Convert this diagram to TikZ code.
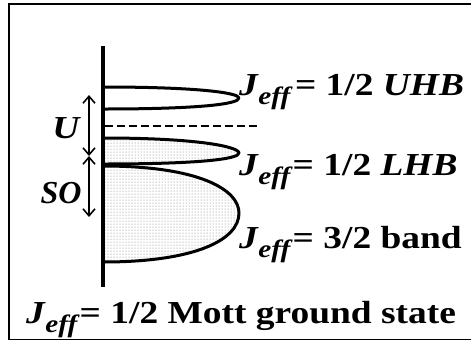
\documentclass[tikz,border=0pt]{standalone}
\usepackage{graphicx}
\usepackage{fontspec}
\setmainfont{Liberation Serif}
\usetikzlibrary{patterns,arrows.meta}
\newcommand\Jeff{\textit{J}\kern-0.5pt\raisebox{-9pt}{\fontsize{25}{25}\selectfont\textit{eff}}}
\newcommand\wide[1]{\scalebox{1.17}[1]{#1}}
\begin{document}
\begin{tikzpicture}[x=1pt,y=-1pt,
  band/.style={line width=3pt,line join=round},
  bandfill/.style={pattern=dots,pattern color=black!55},
  gap/.style={line width=1.6pt,{Straight Barb[length=7pt,width=12pt]}-{Straight Barb[length=7pt,width=12pt]}},
  lbl/.style={inner sep=0pt,anchor=base west,font=\fontsize{32}{34}\selectfont\bfseries},
  sym/.style={inner sep=0pt,anchor=base,font=\fontsize{32}{34}\selectfont\bfseries\itshape}]
\path[use as bounding box] (0,0) rectangle (471,341);
\coordinate (b1) at (471,4);
\coordinate (b2) at (9,4);
\coordinate (b3) at (9,339.5);
\coordinate (b4) at (471,339.5);
\draw[line width=1.6pt] (b1) -- (b2) -- (b3) -- (b4);
% bands
\fill[bandfill] (103,138) .. controls (200,138) and (239,147) .. (239,153) .. controls (239,159) and (200,164) .. (103,164) -- cycle;
\fill[bandfill] (103,165) .. controls (200,165) and (239,190) .. (239,213) .. controls (239,240) and (195,262) .. (103,262) -- cycle;
\draw[band] (103,87) .. controls (200,87) and (239,93) .. (239,98) .. controls (239,104) and (200,109) .. (103,109);
\draw[band] (103,138) .. controls (200,138) and (239,147) .. (239,153) .. controls (239,159) and (200,164) .. (103,164);
\draw[band] (103,166) .. controls (200,166) and (239,190) .. (239,213) .. controls (239,240) and (195,262) .. (103,262);
% axis
\coordinate (axtop) at (103,46);
\coordinate (axbot) at (103,287);
\draw[line width=4pt] (axtop) -- (axbot);
% fermi level
\coordinate (ef1) at (105,126);
\coordinate (ef2) at (259,126);
\draw[line width=1.4pt,dash pattern=on 8pt off 4pt] (ef1) -- (ef2);
% gaps
\coordinate (u1) at (89,95);
\coordinate (u2) at (89,156);
\coordinate (s2) at (89,217);
\draw[gap] (u1) -- (u2);
\draw[gap] (u2) -- (s2);
\node[sym] (U) at (66,138) {\wide{U}};
\node[sym] (SO) at (61,203) {SO};
% labels
\node[lbl] (l1) at (239,95) {\wide{\Jeff\kern2pt = 1/2 \textit{UHB}}};
\node[lbl] (l2) at (239,175) {\wide{\Jeff\kern0pt= 1/2 \textit{LHB}}};
\node[lbl] (l3) at (239,248) {\wide{\Jeff\kern0pt= 3/2 band}};
\node[lbl] (l4) at (26,323) {\wide{\Jeff\kern0pt= 1/2 Mott ground state}};
\end{tikzpicture}
\end{document}
